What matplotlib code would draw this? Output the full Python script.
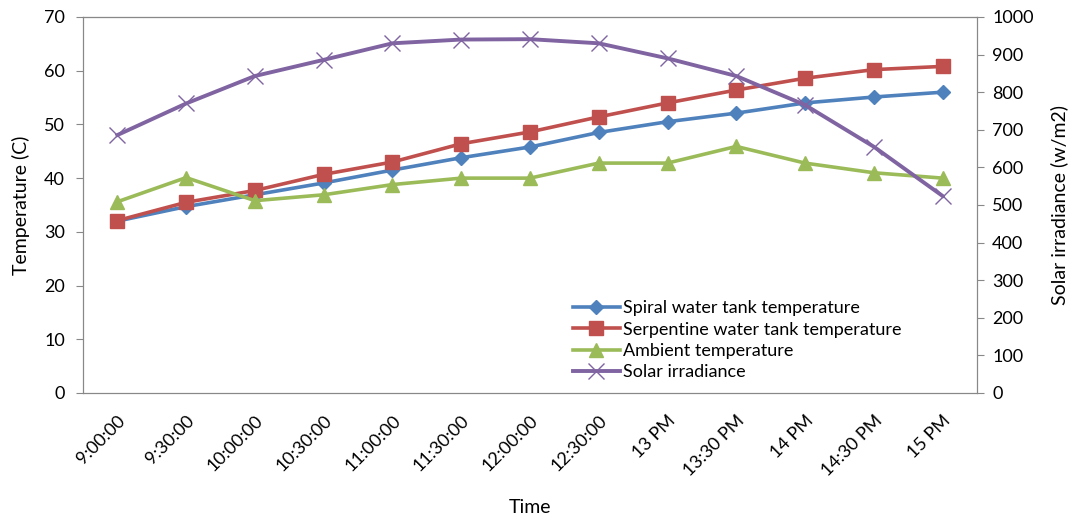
import matplotlib.pyplot as plt

plt.rcParams['font.family'] = ['Lato', 'DejaVu Sans']

# 数据
times = ['9:00:00', '9:30:00', '10:00:00', '10:30:00', '11:00:00', '11:30:00',
         '12:00:00', '12:30:00', '13 PM', '13:30 PM', '14 PM', '14:30 PM', '15 PM']
spiral = [32.0, 34.7, 36.9, 39.1, 41.5, 43.8, 45.8, 48.5, 50.5, 52.1, 54.0, 55.1, 56.0]
serpentine = [32.1, 35.5, 37.7, 40.7, 43.0, 46.4, 48.6, 51.4, 54.0, 56.4, 58.6, 60.2, 60.8]
ambient = [35.6, 40.1, 35.8, 36.9, 38.8, 40.0, 40.0, 42.8, 42.8, 45.9, 42.8, 41.0, 40.0]
irradiance = [686, 770, 843, 886, 930, 940, 941, 930, 890, 843, 766, 655, 524]

blue = '#4F81BD'
red = '#C0504D'
green = '#9BBB59'
purple = '#8064A2'

fig = plt.figure(figsize=(10.75, 5.21), dpi=100)
ax = fig.add_axes([0.0772, 0.2457, 0.8316, 0.7217])
ax2 = ax.twinx()

x = range(len(times))
l1, = ax.plot(x, spiral, color=blue, lw=2.6, marker='D', ms=7, label='Spiral water tank temperature')
l2, = ax.plot(x, serpentine, color=red, lw=2.6, marker='s', ms=10, label='Serpentine water tank temperature')
l3, = ax.plot(x, ambient, color=green, lw=2.6, marker='^', ms=10, label='Ambient temperature')
l4, = ax2.plot(x, irradiance, color=purple, lw=2.8, marker='x', ms=11, mew=1, label='Solar irradiance')

ax.set_xlim(-0.5, len(times) - 0.5)
ax.set_ylim(0, 70)
ax2.set_ylim(0, 1000)
ax.set_yticks(range(0, 71, 10))
ax2.set_yticks(range(0, 1001, 100))

ax.set_xticks(list(x))
ax.set_xticklabels(times, rotation=45, ha='right', rotation_mode='anchor', fontsize=13)
ax.tick_params(axis='x', length=0, pad=14)
ax.tick_params(axis='y', labelsize=13, color='#888888', length=5, pad=8)
ax2.tick_params(axis='y', labelsize=13, color='#888888', length=5, pad=6)

for a in (ax, ax2):
    for s in a.spines.values():
        s.set_color('#888888')
ax.spines['top'].set_color('#444444')

ax.set_xlabel('Time', fontsize=14, labelpad=14)
ax.set_ylabel('Temperature (C)', fontsize=14, labelpad=10)
ax2.set_ylabel('Solar irradiance (w/m2)', fontsize=14, labelpad=12)

ax.legend(handles=[l1, l2, l3, l4], loc='lower right', bbox_to_anchor=(0.93, 0.0),
          frameon=False, fontsize=13, handlelength=2.6, handletextpad=0.2,
          labelspacing=0.3, borderaxespad=0.3)

fig.savefig('out.png', dpi=100)
